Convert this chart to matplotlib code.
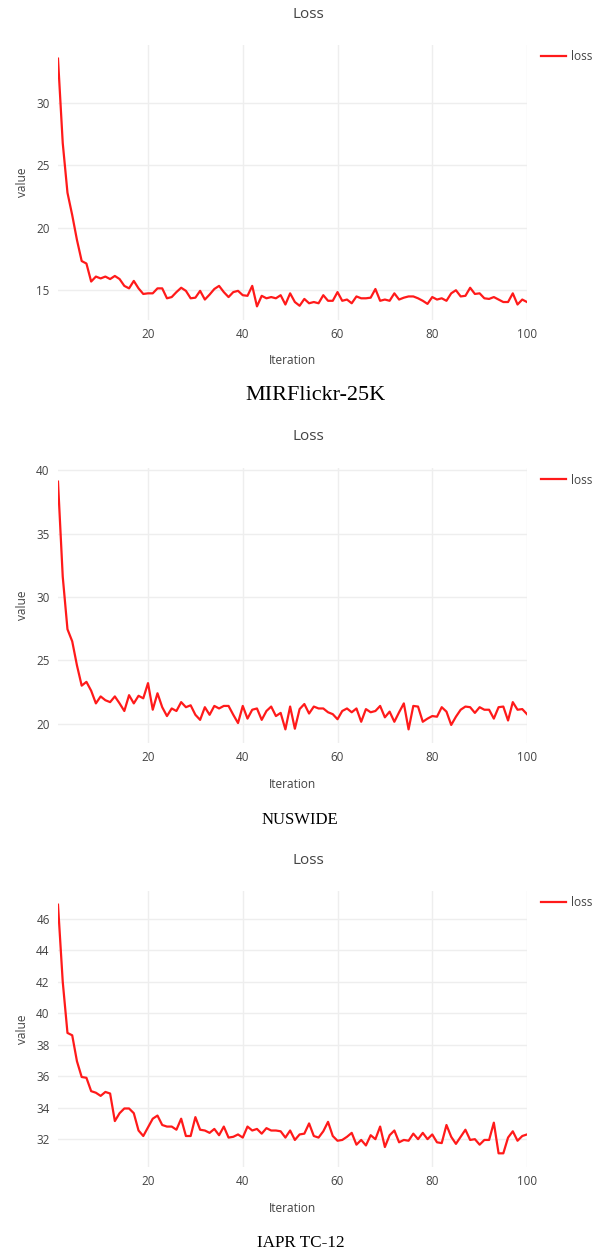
import numpy as np
import matplotlib
matplotlib.use("Agg")
import matplotlib.pyplot as plt

# ---------------- data ----------------
mir_loss = [33.6, 26.8, 22.8, 21.0, 19.0, 17.3, 17.1, 15.65, 16.05, 15.9,
            16.05, 15.85, 16.1, 15.85, 15.3, 15.1, 15.7, 15.1, 14.65, 14.7,
            14.7, 15.1, 15.1, 14.3, 14.4, 14.8, 15.15, 14.9, 14.3, 14.35,
            14.9, 14.2, 14.6, 15.05, 15.3, 14.8, 14.4, 14.8, 14.9, 14.55,
            14.5, 15.3, 13.65, 14.5, 14.3, 14.4, 14.3, 14.55, 13.8, 14.7,
            14.0, 13.7, 14.25, 13.9, 14.0, 13.9, 14.55, 14.1, 14.1, 14.8,
            14.1, 14.2, 13.9, 14.45, 14.3, 14.3, 14.35, 15.05, 14.1, 14.2,
            14.1, 14.7, 14.2, 14.35, 14.45, 14.45, 14.3, 14.1, 13.85, 14.4,
            14.2, 14.3, 14.1, 14.7, 14.95, 14.45, 14.5, 15.15, 14.65, 14.7,
            14.3, 14.25, 14.4, 14.2, 14.0, 14.0, 14.7, 13.8, 14.2, 14.0]

nus_loss = [39.1, 31.6, 27.45, 26.5, 24.6, 23.0, 23.3, 22.6, 21.6, 22.15,
            21.85, 21.7, 22.15, 21.6, 21.0, 22.25, 21.6, 22.2, 22.0, 23.2,
            21.1, 22.4, 21.3, 20.6, 21.2, 21.0, 21.7, 21.3, 21.45, 20.7,
            20.3, 21.3, 20.7, 21.4, 21.2, 21.4, 21.4, 20.7, 20.05, 21.4,
            20.4, 21.1, 21.2, 20.3, 21.0, 21.35, 20.6, 20.85, 19.55, 21.35,
            19.6, 21.15, 21.55, 20.8, 21.35, 21.2, 21.2, 20.9, 20.75, 20.35,
            21.0, 21.2, 20.9, 21.2, 20.15, 21.15, 20.9, 21.0, 21.4, 20.5,
            20.95, 20.15, 20.9, 21.6, 19.55, 21.4, 21.35, 20.15, 20.4, 20.6,
            20.55, 21.3, 20.95, 19.9, 20.55, 21.1, 21.35, 21.3, 20.85, 21.3,
            21.1, 21.1, 20.4, 21.3, 21.35, 20.25, 21.7, 21.1, 21.15, 20.75]

iapr_loss = [46.9, 42.0, 38.75, 38.6, 36.95, 35.95, 35.9, 35.05, 34.95, 34.75,
             35.0, 34.9, 33.15, 33.65, 33.95, 33.95, 33.65, 32.55, 32.2, 32.75,
             33.3, 33.5, 32.9, 32.8, 32.8, 32.6, 33.3, 32.2, 32.2, 33.4,
             32.6, 32.55, 32.4, 32.65, 32.25, 32.8, 32.1, 32.15, 32.3, 32.1,
             32.8, 32.55, 32.65, 32.35, 32.7, 32.55, 32.55, 32.5, 32.1, 32.55,
             31.95, 32.3, 32.35, 33.0, 32.2, 32.1, 32.5, 33.1, 32.2, 31.9,
             31.95, 32.15, 32.4, 31.65, 31.95, 31.6, 32.25, 32.0, 32.8, 31.5,
             32.25, 32.55, 31.8, 31.95, 31.9, 32.35, 32.0, 32.4, 32.0, 32.3,
             31.8, 31.75, 32.9, 32.15, 31.7, 32.15, 32.6, 31.95, 32.0, 31.65,
             31.95, 31.95, 33.05, 31.1, 31.1, 32.1, 32.5, 31.9, 32.2, 32.3]

captions = ["MIRFlickr-25K", "NUSWIDE", "IAPR TC-12"]
y_ticks = [[15, 20, 25, 30], [20, 25, 30, 35, 40], [32, 34, 36, 38, 40, 42, 44, 46]]
x_ticks = [20, 40, 60, 80, 100]
series = [mir_loss, nus_loss, iapr_loss]

# ---------------- layout ----------------
W, H = 602, 1254
fig = plt.figure(figsize=(W / 100, H / 100), dpi=100)
fig.patch.set_facecolor("white")

left, right = 58, 527
tops = [45, 468, 891]
bottoms = [320, 743, 1167]
title_y = [14, 437, 860]
caption_x = [316, 300, 301]
caption_y = [396, 820, 1243]
caption_size = [16, 12.0, 12.3]
legend_y = [57, 480, 903]

txt_col = "#444444"
grid_col = "#eeeeee"
font = "Open Sans"

for k in range(3):
    vals = series[k]
    it = np.arange(1, len(vals) + 1)
    h = bottoms[k] - tops[k]
    ax = fig.add_axes([left / W, 1 - bottoms[k] / H, (right - left) / W, h / H])
    ax.plot(it, vals, color="#ff1a1a", lw=1.6, label="loss", solid_joinstyle="round")
    ax.set_xlim(1, len(vals))
    vmin, vmax = min(vals), max(vals)
    pad = (vmax - vmin) * 0.055
    ax.set_ylim(vmin - pad, vmax + pad)
    ax.set_xticks(x_ticks)
    ax.set_yticks(y_ticks[k])
    for s in ax.spines.values():
        s.set_visible(False)
    ax.grid(True, color=grid_col, lw=1.0)
    ax.set_axisbelow(True)
    ax.tick_params(length=0, labelsize=8.4, labelcolor=txt_col, pad=6)
    for lab in ax.get_xticklabels() + ax.get_yticklabels():
        lab.set_fontfamily(font)
    ax.set_xlabel("Iteration", fontsize=8.6, color=txt_col, family=font)
    ax.set_ylabel("value", fontsize=8.6, color=txt_col, family=font)
    ax.xaxis.set_label_coords(0.5, -41 / h)
    ax.yaxis.set_label_coords((22 - left) / (right - left), 0.5)
    ax.xaxis.label.set_va("center")
    ax.yaxis.label.set_va("center")

    fig.text(308 / W, 1 - title_y[k] / H, "Loss", ha="center", va="center",
             fontsize=11, color=txt_col, family=font)
    fig.text(caption_x[k] / W, 1 - caption_y[k] / H, captions[k], ha="center",
             va="center", fontsize=caption_size[k], color="black",
             family="Liberation Serif")

    leg = ax.legend(loc="center left", bbox_to_anchor=(541 / W, 1 - legend_y[k] / H),
                    bbox_transform=fig.transFigure, frameon=False,
                    prop={"family": font, "size": 8.6}, handlelength=2.1,
                    handletextpad=0.4, borderpad=0, borderaxespad=0)
    for t in leg.get_texts():
        t.set_color(txt_col)

fig.savefig("out.png", dpi=100, facecolor="white")
